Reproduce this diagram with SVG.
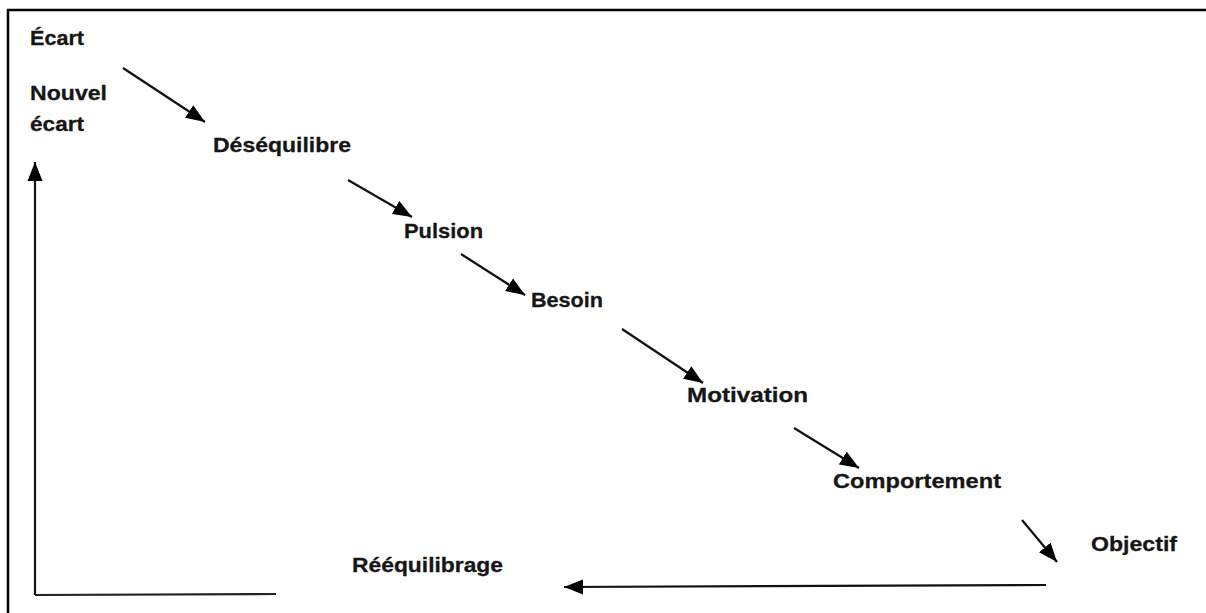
<svg xmlns="http://www.w3.org/2000/svg" width="1206" height="613" viewBox="0 0 1206 613">
  <defs>
    <marker id="head" markerUnits="userSpaceOnUse" markerWidth="20" markerHeight="16" viewBox="0 0 20 16" refX="19" refY="8" orient="auto">
      <path d="M0,0.5 L19,8 L0,15.5 Z" fill="#000"/>
    </marker>
    <style>
      .lbl { font-family: "Liberation Sans", Arial, sans-serif; font-weight: bold; font-size: 21px; fill: #161616; stroke: #161616; stroke-width: 0.3; }
      .arr { stroke: #111; stroke-width: 2.2; fill: none; marker-end: url(#head); }
      .ln { stroke: #222; stroke-width: 2.2; fill: none; }
      .frame { stroke: #000; stroke-width: 2.5; fill: none; }
    </style>
  </defs>

  <rect width="1206" height="613" fill="#fff"/>
  <!-- outer frame: only top and left edges fall inside the page -->
  <path class="frame" d="M8,620 L8,10 L1210,10"/>

  <g id="ecart"><text class="lbl" x="30" y="45" textLength="54" lengthAdjust="spacingAndGlyphs">Écart</text></g>
  <g id="nouvel-ecart">
    <text class="lbl" x="30" y="100" textLength="77" lengthAdjust="spacingAndGlyphs">Nouvel</text>
    <text class="lbl" x="30" y="131" textLength="54" lengthAdjust="spacingAndGlyphs">écart</text>
  </g>
  <g id="desequilibre"><text class="lbl" x="213" y="152" textLength="138" lengthAdjust="spacingAndGlyphs">Déséquilibre</text></g>
  <g id="pulsion"><text class="lbl" x="404" y="238" textLength="79" lengthAdjust="spacingAndGlyphs">Pulsion</text></g>
  <g id="besoin"><text class="lbl" x="531" y="307" textLength="72" lengthAdjust="spacingAndGlyphs">Besoin</text></g>
  <g id="motivation"><text class="lbl" x="687" y="402" textLength="121" lengthAdjust="spacingAndGlyphs">Motivation</text></g>
  <g id="comportement"><text class="lbl" x="833" y="488" textLength="168" lengthAdjust="spacingAndGlyphs">Comportement</text></g>
  <g id="objectif"><text class="lbl" x="1091" y="551" textLength="86" lengthAdjust="spacingAndGlyphs">Objectif</text></g>
  <g id="reequilibrage"><text class="lbl" x="352" y="572" textLength="151" lengthAdjust="spacingAndGlyphs">Rééquilibrage</text></g>

  <g id="connectors">
    <line class="arr" x1="123" y1="68" x2="205" y2="122"/>
    <line class="arr" x1="348" y1="180" x2="412" y2="217"/>
    <line class="arr" x1="461" y1="254" x2="525" y2="295"/>
    <line class="arr" x1="622" y1="329" x2="703" y2="383"/>
    <line class="arr" x1="794" y1="428" x2="859" y2="468"/>
    <line class="arr" x1="1022" y1="520" x2="1057" y2="562"/>
    <line class="arr" x1="1046" y1="585" x2="564" y2="587"/>
    <line class="ln" x1="35" y1="595" x2="276" y2="594"/>
    <line class="arr" x1="35" y1="595" x2="35" y2="162"/>
  </g>
</svg>
